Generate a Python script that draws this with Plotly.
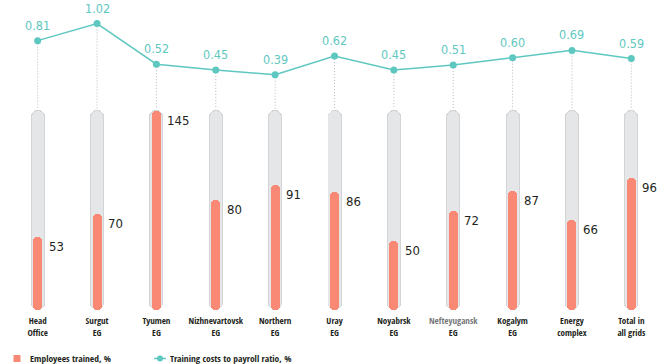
import plotly.graph_objects as go

categories = ["Head<br>Office", "Surgut<br>EG", "Tyumen<br>EG", "Nizhnevartovsk<br>EG",
              "Northern<br>EG", "Uray<br>EG", "Noyabrsk<br>EG",
              "<span style='color:#77777a'>Nefteyugansk</span><br>EG",
              "Kogalym<br>EG", "Energy<br>complex", "Total in<br>all grids"]
employees_trained = [53, 70, 145, 80, 91, 86, 50, 72, 87, 66, 96]
cost_ratio = [0.81, 1.02, 0.52, 0.45, 0.39, 0.62, 0.45, 0.51, 0.60, 0.69, 0.59]
ratio_labels = ["0.81", "1.02", "0.52", "0.45", "0.39", "0.62", "0.45", "0.51", "0.60", "0.69", "0.59"]
series_names = ["Employees trained, %", "Training costs to payroll ratio, %"]
track_max = 145

NUM_FONT = "DejaVu Sans Condensed, DejaVu Sans, sans-serif"
LBL_FONT = "Open Sans Condensed, DejaVu Sans Condensed, sans-serif"
CORAL = "#f98875"
TEAL = "#5ec8c0"
TRACK = "#e4e6e8"
TRACK_EDGE = "#d3d4d6"
DOT = "#b9b9c6"
INK = "#231f20"

W, H = 668, 364
M = dict(l=8, r=7, t=0, b=50)
PW, PH = W - M["l"] - M["r"], H - M["t"] - M["b"]

idx = list(range(len(categories)))

# axis ranges (bars on y, ratio line on y2)
Y_RANGE = [-2.92, 226.2]
Y2_RANGE = [-2.554, 1.310]


def y_to_y2(v):
    f = (v - Y_RANGE[0]) / (Y_RANGE[1] - Y_RANGE[0])
    return Y2_RANGE[0] + f * (Y2_RANGE[1] - Y2_RANGE[0])


def px(xp):
    return (xp - M["l"]) / PW


def py(yp):
    return (H - M["b"] - yp) / PH


fig = go.Figure()


def pill(values, width, color, name=None):
    # lower half: rounded bottom end
    fig.add_trace(go.Bar(
        x=idx, base=[v * 0.6 for v in values], y=[-v * 0.6 for v in values],
        width=width, marker=dict(color=color, cornerradius="50%", line=dict(width=0)),
        name=name, showlegend=False, hoverinfo="skip"))
    # upper half: rounded top end
    fig.add_trace(go.Bar(
        x=idx, base=[v * 0.4 for v in values], y=[v * 0.6 for v in values],
        width=width, marker=dict(color=color, cornerradius="50%", line=dict(width=0)),
        name=name, showlegend=False, hoverinfo="skip"))


# track outline, track, value bar
pill([track_max + 1.0] * len(idx), 0.236, TRACK_EDGE)
pill([track_max + 0.3] * len(idx), 0.205, TRACK)
pill(employees_trained, 0.152, CORAL, name=series_names[0])

# dotted leader lines from the line points down to the track tops
dx, dy = [], []
top_y2 = y_to_y2(track_max + 1.5)
for i, v in zip(idx, cost_ratio):
    dx += [i, i, None]
    dy += [v, top_y2, None]
fig.add_trace(go.Scatter(x=dx, y=dy, yaxis="y2", mode="lines",
                         line=dict(color=DOT, width=1, dash="1px,2px"),
                         showlegend=False, hoverinfo="skip"))

fig.add_trace(go.Scatter(x=idx, y=cost_ratio, yaxis="y2", mode="lines+markers",
                         line=dict(color=TEAL, width=1.5),
                         marker=dict(color=TEAL, size=7),
                         name=series_names[1], showlegend=False))

annotations = []
for i, v, t in zip(idx, cost_ratio, ratio_labels):
    annotations.append(dict(x=i, y=v, xref="x", yref="y2", text=t, showarrow=False,
                            yshift=15.5, font=dict(family=NUM_FONT, size=12.5, color=TEAL)))
for i, v in zip(idx, employees_trained):
    annotations.append(dict(x=i, y=v, xref="x", yref="y", text=str(v), showarrow=False,
                            xanchor="left", xshift=9, yshift=-9.5,
                            font=dict(family=NUM_FONT, size=13, color=INK)))

# legend (drawn by hand to match the compact key of the original)
LEG_Y = 358.5
legend_font = dict(family=LBL_FONT, size=9.5, color=INK)
annotations.append(dict(x=px(28), y=py(LEG_Y), xref="paper", yref="paper", text=series_names[0],
                        showarrow=False, xanchor="left", yanchor="middle", font=legend_font))
annotations.append(dict(x=px(168), y=py(LEG_Y), xref="paper", yref="paper", text=series_names[1],
                        showarrow=False, xanchor="left", yanchor="middle", font=legend_font))
shapes = [
    dict(type="rect", xref="paper", yref="paper", x0=px(13.5), x1=px(20.5),
         y0=py(LEG_Y - 3.5), y1=py(LEG_Y + 3.5), fillcolor=CORAL, line=dict(width=0)),
    dict(type="line", xref="paper", yref="paper", x0=px(154), x1=px(166),
         y0=py(LEG_Y), y1=py(LEG_Y), line=dict(color=TEAL, width=1.5)),
    dict(type="circle", xref="paper", yref="paper", x0=px(157), x1=px(163),
         y0=py(LEG_Y - 3), y1=py(LEG_Y + 3), fillcolor=TEAL, line=dict(width=0)),
]

fig.update_layout(
    width=W, height=H,
    margin=M,
    paper_bgcolor="white", plot_bgcolor="white",
    barmode="overlay", bargap=0,
    font=dict(family=LBL_FONT, color=INK),
    xaxis=dict(range=[-0.5, 10.5], tickvals=idx, ticktext=categories, tickangle=0,
               automargin=False, showgrid=False, zeroline=False, showline=False, ticks="",
               tickfont=dict(family=LBL_FONT, size=9, color=INK)),
    yaxis=dict(range=Y_RANGE, visible=False, fixedrange=True, automargin=False),
    yaxis2=dict(range=Y2_RANGE, overlaying="y", visible=False, automargin=False),
    showlegend=False,
    annotations=annotations,
    shapes=shapes,
)

fig.write_html("out.html", config={"displayModeBar": False},
               post_script="document.body.style.margin='0';")
